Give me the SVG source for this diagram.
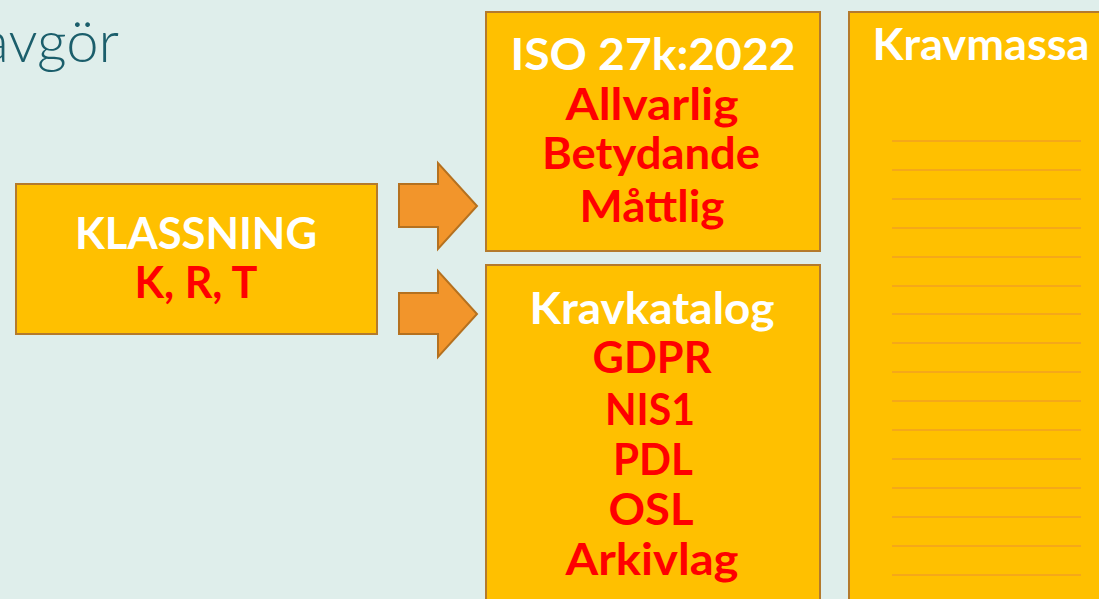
<svg xmlns="http://www.w3.org/2000/svg" width="1099" height="599" viewBox="0 0 1099 599">
<style>
.box{fill:#FFC000;stroke:#B47A2C;stroke-width:2}
.arrow{fill:#F2952B;stroke:#B5711F;stroke-width:2;stroke-linejoin:miter}
.t{font-family:Lato,"Noto Sans",sans-serif;font-weight:bold;font-size:44px;text-anchor:middle}
.w{fill:#FFFFFF}
.r{fill:#FF0000}
.ln{stroke:#F2A022;stroke-width:1.5}
</style>
<rect x="0" y="0" width="1099" height="599" fill="#DFEEEB"/>
<text x="119" y="62" font-family="Lato,'Noto Sans',sans-serif" font-weight="300" font-size="58" fill="#1B5E6B" text-anchor="end">avgör</text>
<g id="klassning">
<rect class="box" x="16" y="184" width="361" height="150"/>
<text class="t w" x="196" y="249" textLength="242" lengthAdjust="spacingAndGlyphs">KLASSNING</text>
<text class="t r" x="196" y="298" textLength="123" lengthAdjust="spacingAndGlyphs">K, R, T</text>
</g>
<g id="connectors">
<path class="arrow" d="M399,184 H438 V163 L477,206 L438,249 V227 H399 Z"/>
<path class="arrow" d="M399,293 H438 V271 L477,314 L438,357 V334 H399 Z"/>
</g>
<g id="iso">
<rect class="box" x="486" y="12" width="334" height="239"/>
<text class="t w" x="653" y="70" textLength="285" lengthAdjust="spacingAndGlyphs">ISO 27k:2022</text>
<text class="t r" x="652" y="120" textLength="173" lengthAdjust="spacingAndGlyphs">Allvarlig</text>
<text class="t r" x="651" y="169" textLength="218" lengthAdjust="spacingAndGlyphs">Betydande</text>
<text class="t r" x="652" y="222" textLength="145" lengthAdjust="spacingAndGlyphs">Måttlig</text>
</g>
<g id="kravkatalog">
<rect class="box" x="486" y="265" width="334" height="345"/>
<text class="t w" x="652" y="324" textLength="245" lengthAdjust="spacingAndGlyphs">Kravkatalog</text>
<text class="t r" x="652" y="373" textLength="119" lengthAdjust="spacingAndGlyphs">GDPR</text>
<text class="t r" x="650" y="425" textLength="90" lengthAdjust="spacingAndGlyphs">NIS1</text>
<text class="t r" x="653" y="475" textLength="80" lengthAdjust="spacingAndGlyphs">PDL</text>
<text class="t r" x="651" y="525" textLength="85" lengthAdjust="spacingAndGlyphs">OSL</text>
<text class="t r" x="652" y="575" textLength="173" lengthAdjust="spacingAndGlyphs">Arkivlag</text>
</g>
<g id="kravmassa">
<rect class="box" x="849" y="12" width="260" height="600"/>
<text class="t w" x="981" y="60" textLength="217" lengthAdjust="spacingAndGlyphs">Kravmassa</text>
<g class="ln">
<line x1="892" x2="1081" y1="141" y2="141"/>
<line x1="892" x2="1081" y1="170" y2="170"/>
<line x1="892" x2="1081" y1="199" y2="199"/>
<line x1="892" x2="1081" y1="228" y2="228"/>
<line x1="892" x2="1081" y1="257" y2="257"/>
<line x1="892" x2="1081" y1="286" y2="286"/>
<line x1="892" x2="1081" y1="314" y2="314"/>
<line x1="892" x2="1081" y1="343" y2="343"/>
<line x1="892" x2="1081" y1="372" y2="372"/>
<line x1="892" x2="1081" y1="401" y2="401"/>
<line x1="892" x2="1081" y1="430" y2="430"/>
<line x1="892" x2="1081" y1="459" y2="459"/>
<line x1="892" x2="1081" y1="488" y2="488"/>
<line x1="892" x2="1081" y1="517" y2="517"/>
<line x1="892" x2="1081" y1="546" y2="546"/>
<line x1="892" x2="1081" y1="575" y2="575"/>
</g>
</g>
</svg>
